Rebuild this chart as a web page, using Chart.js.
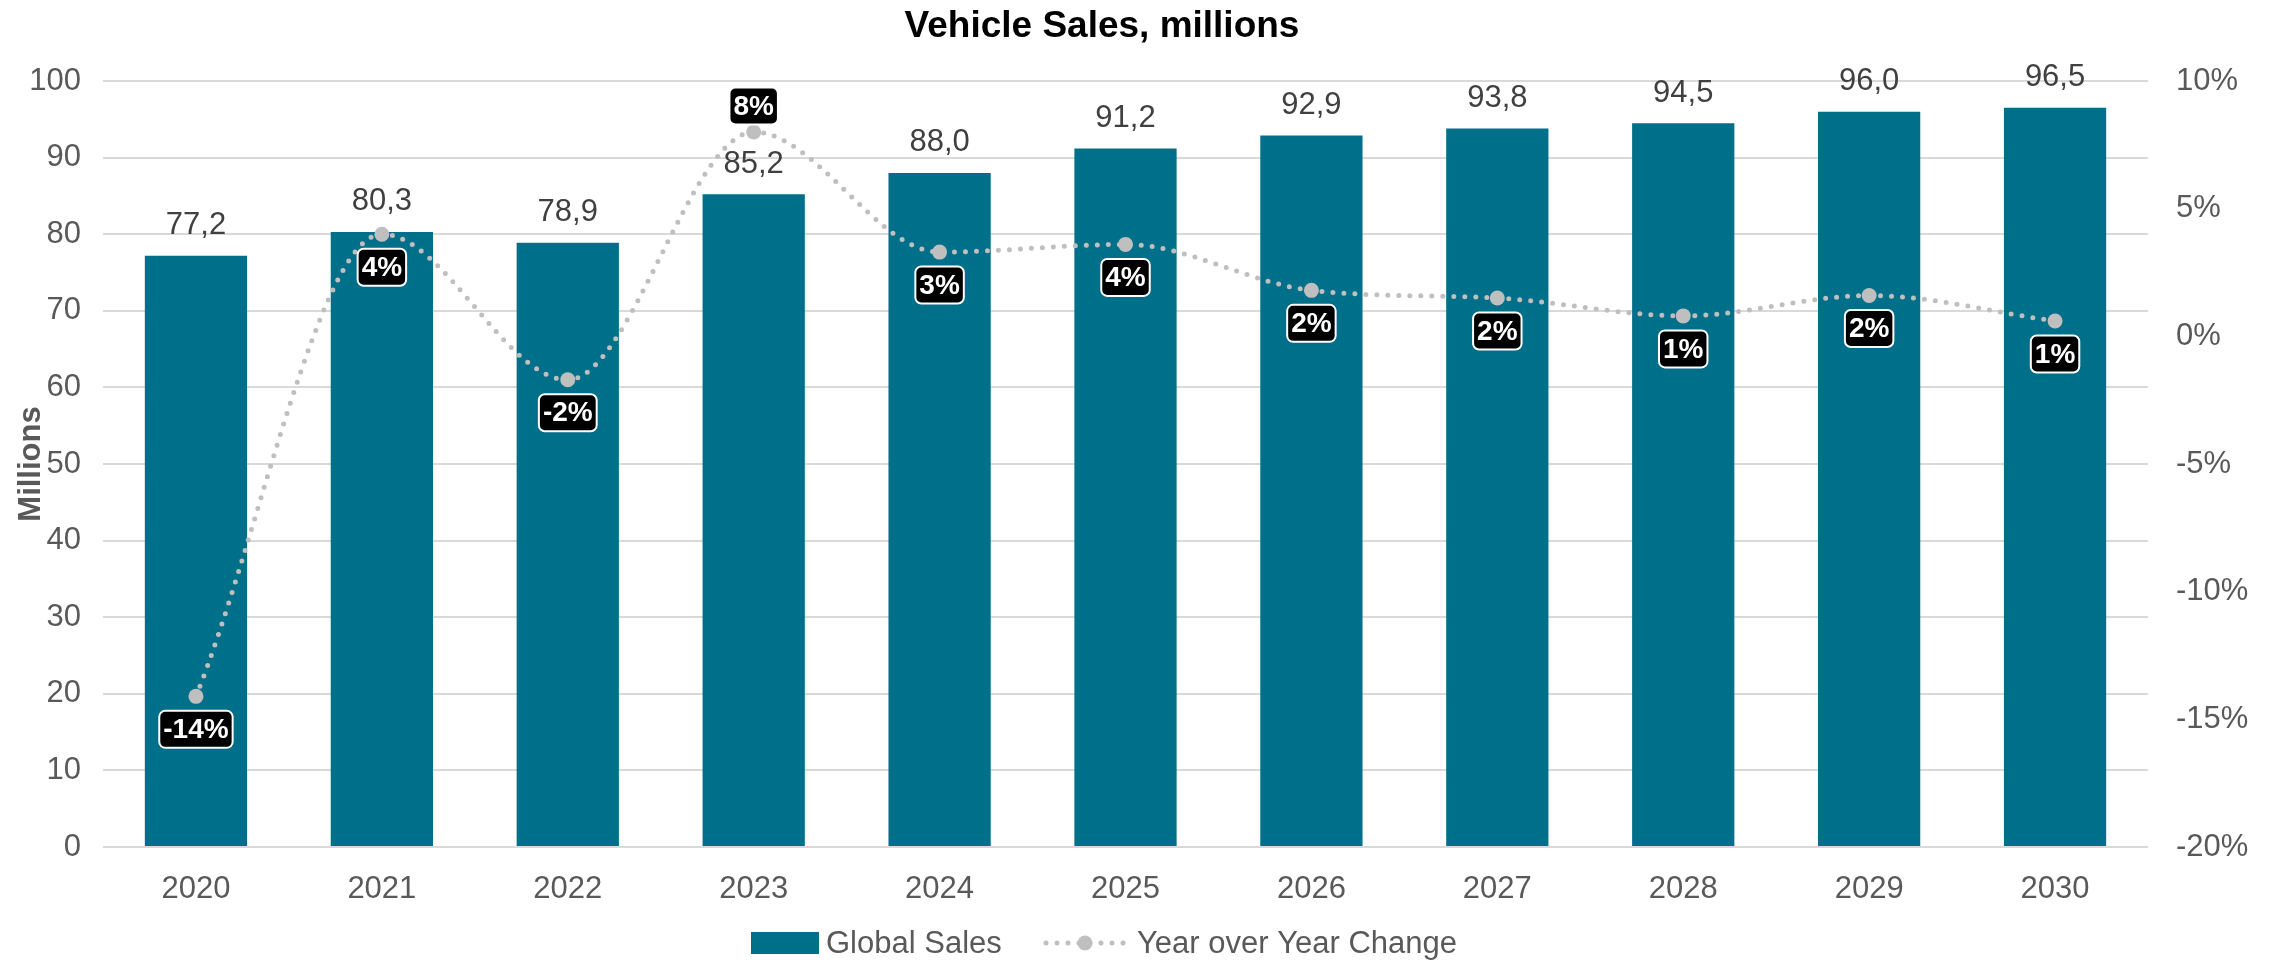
<!DOCTYPE html>
<html>
<head>
<meta charset="utf-8">
<script src="https://cdn.jsdelivr.net/npm/chart.js@4.4.1/dist/chart.umd.min.js"></script>
<style>
  html, body { margin: 0; padding: 0; background: #fff; }
  #wrap { width: 2277px; height: 962px; }
</style>
</head>
<body>
<div id="wrap"><canvas id="salesChart" width="2277" height="962"></canvas></div>
<script>
'use strict';

const years = ['2020', '2021', '2022', '2023', '2024', '2025', '2026', '2027', '2028', '2029', '2030'];
const globalSales = [77.2, 80.3, 78.9, 85.2, 88.0, 91.2, 92.9, 93.8, 94.5, 96.0, 96.5];
const yoyChange = [-14.1, 4.0, -1.7, 8.0, 3.3, 3.6, 1.8, 1.5, 0.8, 1.6, 0.6];
const salesTicks = [0, 10, 20, 30, 40, 50, 60, 70, 80, 90, 100];
const pctTicks = [-20, -15, -10, -5, 0, 5, 10];

const COLORS = {
  bar:   '#006f89',
  line:  '#bfbfbf',
  grid:  '#d9d9d9',
  tick:  '#595959',
  label: '#404040',
};
const FONT = '"Liberation Sans", Arial, sans-serif';

function fmtComma(v) {
  return v.toFixed(1).replace('.', ',');
}

function roundRect(ctx, x, y, w, h, r) {
  ctx.beginPath();
  ctx.moveTo(x + r, y);
  ctx.arcTo(x + w, y, x + w, y + h, r);
  ctx.arcTo(x + w, y + h, x, y + h, r);
  ctx.arcTo(x, y + h, x, y, r);
  ctx.arcTo(x, y, x + w, y, r);
  ctx.closePath();
}

// value labels, title and legend drawn on the canvas
const overlayPlugin = {
  id: 'overlay',
  afterDatasetsDraw(chart) {
    const ctx = chart.ctx;
    ctx.save();
    ctx.textAlign = 'center';
    ctx.textBaseline = 'middle';

    // bar values
    ctx.font = '31px ' + FONT;
    ctx.fillStyle = COLORS.label;
    chart.getDatasetMeta(1).data.forEach((el, i) => {
      ctx.fillText(fmtComma(globalSales[i]), el.x, el.y - 30);
    });

    // yoy labels
    const maxChange = Math.max(...yoyChange);
    ctx.font = 'bold 28px ' + FONT;
    chart.getDatasetMeta(0).data.forEach((pt, i) => {
      const txt = Math.round(yoyChange[i]) + '%';
      const w = ctx.measureText(txt).width + 8;
      const h = 37;
      const cy = yoyChange[i] === maxChange ? pt.y - 26 : pt.y + 33;
      roundRect(ctx, pt.x - w / 2, cy - h / 2, w, h, 6);
      ctx.fillStyle = '#000';
      ctx.fill();
      ctx.lineWidth = 2;
      ctx.strokeStyle = '#fff';
      ctx.stroke();
      ctx.fillStyle = '#fff';
      ctx.fillText(txt, pt.x, cy + 1);
    });
    ctx.restore();
  },
  afterDraw(chart) {
    const ctx = chart.ctx;
    ctx.save();
    // title
    ctx.font = 'bold 37px ' + FONT;
    ctx.fillStyle = '#000';
    ctx.textAlign = 'center';
    ctx.textBaseline = 'middle';
    ctx.fillText('Vehicle Sales, millions', 1102, 27);

    // legend
    const ly = 943;
    ctx.font = '31px ' + FONT;
    ctx.textAlign = 'left';
    ctx.fillStyle = COLORS.bar;
    ctx.fillRect(751, ly - 11, 68, 22);
    ctx.fillStyle = COLORS.tick;
    ctx.fillText('Global Sales', 826, ly + 1);

    ctx.strokeStyle = COLORS.line;
    ctx.lineWidth = 5;
    ctx.lineCap = 'round';
    ctx.setLineDash([0, 11]);
    ctx.beginPath();
    ctx.moveTo(1046, ly);
    ctx.lineTo(1124, ly);
    ctx.stroke();
    ctx.setLineDash([]);
    ctx.fillStyle = COLORS.line;
    ctx.beginPath();
    ctx.arc(1085, ly, 7.5, 0, Math.PI * 2);
    ctx.fill();
    ctx.fillStyle = COLORS.tick;
    ctx.fillText('Year over Year Change', 1137, ly + 1);
    ctx.restore();
  },
};

const tickFont = { family: FONT, size: 31 };

new Chart(document.getElementById('salesChart'), {
  data: {
    labels: years,
    datasets: [
      {
        type: 'line',
        label: 'Year over Year Change',
        data: yoyChange,
        yAxisID: 'y1',
        borderColor: COLORS.line,
        borderWidth: 5,
        borderDash: [0, 11],
        borderCapStyle: 'round',
        cubicInterpolationMode: 'monotone',
        pointRadius: 7.5,
        pointBorderWidth: 0,
        pointBackgroundColor: COLORS.line,
        order: 0,
      },
      {
        type: 'bar',
        label: 'Global Sales',
        data: globalSales,
        yAxisID: 'y',
        backgroundColor: COLORS.bar,
        categoryPercentage: 1,
        barPercentage: 0.55,
        order: 1,
      },
    ],
  },
  options: {
    responsive: false,
    animation: false,
    devicePixelRatio: 1,
    layout: { padding: { top: 81, bottom: 0, left: 0, right: 0 } },
    plugins: {
      legend: { display: false },
      title: { display: false },
      tooltip: { enabled: false },
    },
    scales: {
      x: {
        grid: { display: false },
        border: { display: false },
        ticks: { color: COLORS.tick, font: tickFont, padding: 16, maxRotation: 0 },
        afterFit: s => { s.height = 115; },
      },
      y: {
        position: 'left',
        min: salesTicks[0],
        max: salesTicks[salesTicks.length - 1],
        afterBuildTicks: s => { s.ticks = salesTicks.map(v => ({ value: v })); },
        grid: { color: COLORS.grid, lineWidth: 2, drawTicks: false },
        border: { display: false },
        ticks: { color: COLORS.tick, font: tickFont, padding: 22 },
        title: {
          display: true,
          text: 'Millions',
          color: COLORS.tick,
          font: { family: FONT, size: 31, weight: 'bold' },
          padding: { top: 13, bottom: 0 },
        },
        afterFit: s => { s.width = 103; },
      },
      y1: {
        position: 'right',
        min: pctTicks[0],
        max: pctTicks[pctTicks.length - 1],
        afterBuildTicks: s => { s.ticks = pctTicks.map(v => ({ value: v })); },
        grid: { display: false },
        border: { display: false },
        ticks: { color: COLORS.tick, font: tickFont, padding: 20, callback: v => v + '%' },
        afterFit: s => { s.width = 129; },
      },
    },
  },
  plugins: [overlayPlugin],
});
</script>
</body>
</html>
